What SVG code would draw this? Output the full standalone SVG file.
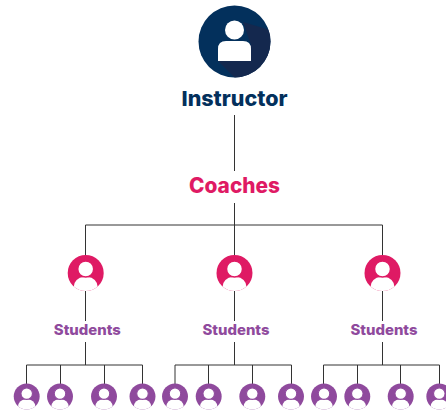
<svg xmlns="http://www.w3.org/2000/svg" width="446" height="412" viewBox="0 0 446 412">
<style>
text{font-family:Inter,"Open Sans","Liberation Sans",sans-serif;font-weight:800;text-anchor:middle}
.t1{font-size:20.5px;fill:#03305c}
.t2{font-size:21px;fill:#df1a64}
.t3{font-size:14.5px;fill:#8f4a9d}
#connectors path{fill:none;stroke:#333;stroke-width:1}
.pink{color:#df1a64}
.purple{color:#8f4a9d}
</style>
<defs>
<clipPath id="c"><circle r="18"/></clipPath>
<g id="person">
<circle r="18" fill="currentColor"/>
<rect x="-12" y="4" width="24" height="20" rx="10" fill="#fff" clip-path="url(#c)"/>
<circle cy="-4" r="8" fill="#fff" stroke="currentColor" stroke-width="1.5"/>
</g>
<clipPath id="top"><circle cx="234.5" cy="41.5" r="36"/></clipPath>
</defs>
<rect width="446" height="412" fill="#fff"/>
<g id="connectors">
<path d="M234.5 115V171M234.5 203V255M85.5 225H382.5M85.5 225V255M382.5 225V255M85.5 291V321M234.5 291V321M382.5 291V321"/>
<path d="M85.5 342V365M26.5 365H142.5M26.5 365V384M60.5 365V384M104.5 365V384M142.5 365V384"/>
<path d="M234.5 342V365M175 365H291.5M175 365V384M208.5 365V384M252.5 365V384M291.5 365V384"/>
<path d="M382.5 342V365M323.5 365H439.5M323.5 365V384M357.5 365V384M400.5 365V384M439.5 365V384"/>
</g>
<g id="instructor">
<circle cx="234.5" cy="41.5" r="36" fill="#03305c"/>
<path d="M218 61L245 88L290 70L270 30L243 22L251 45Z" fill="#14284e" clip-path="url(#top)"/>
<circle cx="234.5" cy="30" r="9.5" fill="#fff"/>
<path d="M218 61V49Q218 41 226 41H243Q251 41 251 49V61Z" fill="#fff"/>
<text class="t1" x="234.5" y="106" textLength="106" lengthAdjust="spacingAndGlyphs">Instructor</text>
</g>
<g id="coaches"><text class="t2" x="234.5" y="193" textLength="91" lengthAdjust="spacingAndGlyphs">Coaches</text></g>
<g id="coach-1" class="pink"><use href="#person" transform="translate(85.7 273)"/></g>
<g id="coach-2" class="pink"><use href="#person" transform="translate(234.5 273)"/></g>
<g id="coach-3" class="pink"><use href="#person" transform="translate(382.5 273)"/></g>
<g id="students-1"><text class="t3" x="87.3" y="335" textLength="67" lengthAdjust="spacingAndGlyphs">Students</text></g>
<g id="students-2"><text class="t3" x="236" y="335" textLength="67" lengthAdjust="spacingAndGlyphs">Students</text></g>
<g id="students-3"><text class="t3" x="384" y="335" textLength="67" lengthAdjust="spacingAndGlyphs">Students</text></g>
<g id="student-1" class="purple"><use href="#person" transform="translate(26.7 396.5) scale(.72)"/></g>
<g id="student-2" class="purple"><use href="#person" transform="translate(60 396.5) scale(.72)"/></g>
<g id="student-3" class="purple"><use href="#person" transform="translate(104 396.5) scale(.72)"/></g>
<g id="student-4" class="purple"><use href="#person" transform="translate(142.5 396.5) scale(.72)"/></g>
<g id="student-5" class="purple"><use href="#person" transform="translate(175 396.5) scale(.72)"/></g>
<g id="student-6" class="purple"><use href="#person" transform="translate(208.7 396.5) scale(.72)"/></g>
<g id="student-7" class="purple"><use href="#person" transform="translate(252.3 396.5) scale(.72)"/></g>
<g id="student-8" class="purple"><use href="#person" transform="translate(291 396.5) scale(.72)"/></g>
<g id="student-9" class="purple"><use href="#person" transform="translate(324 396.5) scale(.72)"/></g>
<g id="student-10" class="purple"><use href="#person" transform="translate(357.3 396.5) scale(.72)"/></g>
<g id="student-11" class="purple"><use href="#person" transform="translate(400.7 396.5) scale(.72)"/></g>
<g id="student-12" class="purple"><use href="#person" transform="translate(439.3 396.5) scale(.72)"/></g>
</svg>
